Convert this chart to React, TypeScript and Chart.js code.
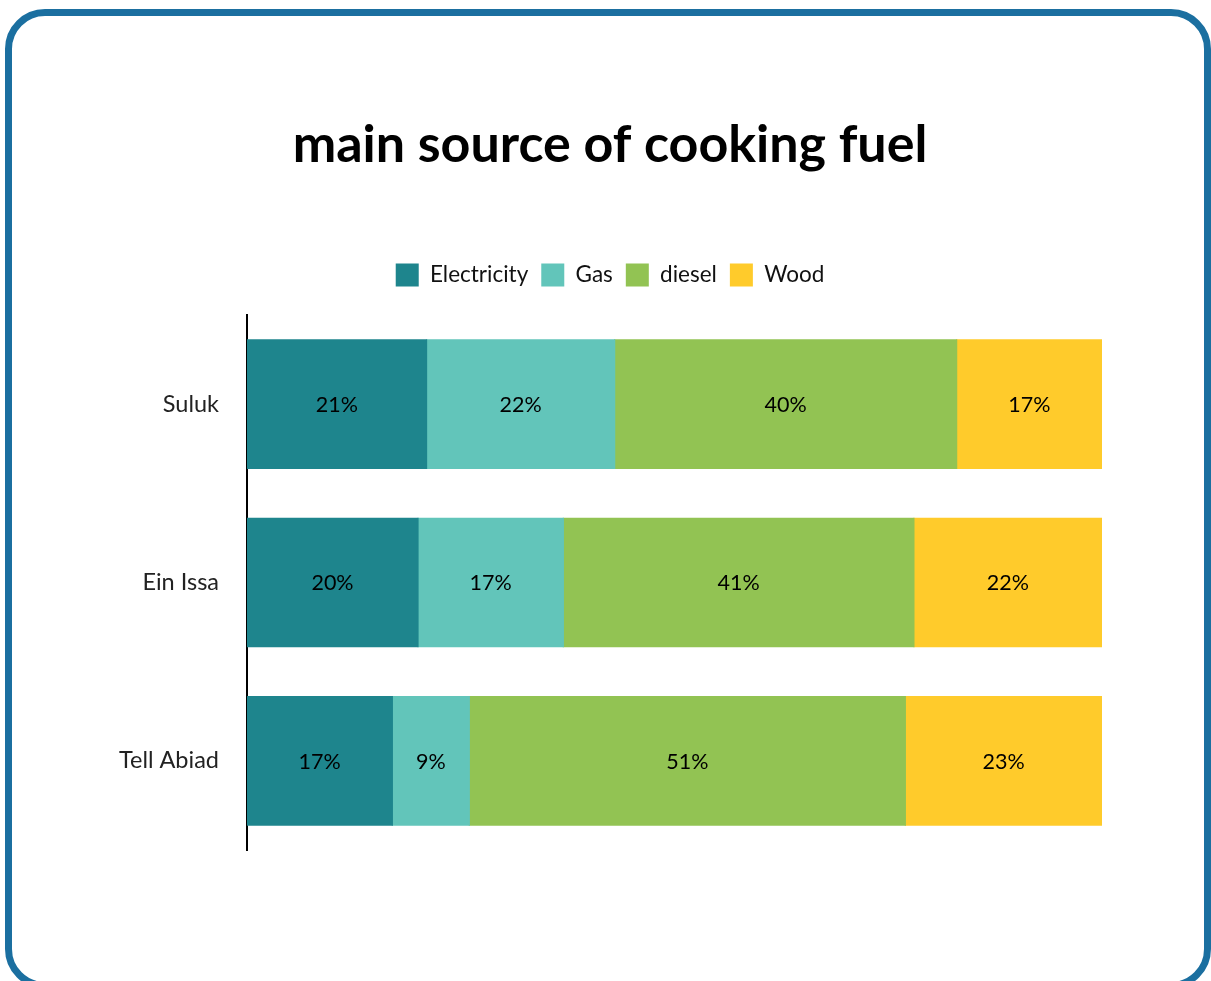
import React, { useEffect, useRef } from "react";
import { Chart, registerables } from "chart.js";

Chart.register(...registerables);

const categories = ["Suluk", "Ein Issa", "Tell Abiad"];
const seriesNames = ["Electricity", "Gas", "diesel", "Wood"];
const electricity = [21, 20, 17];
const gas = [22, 17, 9];
const diesel = [40, 41, 51];
const wood = [17, 22, 23];
const colors = ["#1E858D", "#62C5BA", "#92C353", "#FFCB2B"];

const FONT = "Lato, 'Noto Sans', sans-serif";

const valueLabels = {
  id: "valueLabels",
  afterDatasetsDraw(chart: any) {
    const ctx = chart.ctx;
    ctx.save();
    ctx.font = `21.5px ${FONT}`;
    ctx.fillStyle = "#000";
    ctx.textAlign = "center";
    ctx.textBaseline = "middle";
    chart.data.datasets.forEach((ds: any, i: number) => {
      const meta = chart.getDatasetMeta(i);
      meta.data.forEach((bar: any, j: number) => {
        const { x, base, y } = bar.getProps(["x", "base", "y"], true);
        ctx.fillText(`${ds.data[j]}%`, (x + base) / 2, y + 1);
      });
    });
    ctx.restore();
  },
};

const CHART_TOP = 315;

const legendSpacing = {
  id: "legendSpacing",
  beforeInit(chart: any) {
    const legend = chart.legend;
    if (!legend) return;
    const orig = legend.fit;
    legend.fit = function () {
      orig.call(this);
      const t = chart.options.plugins.title;
      const lh = t.font.size * 1.2;
      const titleBottom = t.padding.top + lh + t.padding.bottom;
      this.height = Math.max(this.height, CHART_TOP - titleBottom);
    };
  },
};

export default function App() {
  const ref = useRef<HTMLCanvasElement>(null);
  useEffect(() => {
    if (!ref.current) return;
    const data = [electricity, gas, diesel, wood];
    const chart = new Chart(ref.current, {
      type: "bar",
      data: {
        labels: categories,
        datasets: seriesNames.map((n, i) => ({
          label: n,
          data: data[i],
          backgroundColor: colors[i],
          borderWidth: 0,
          inflateAmount: 0.6,
          barPercentage: 0.72,
          categoryPercentage: 1,
        })),
      },
      options: {
        indexAxis: "y",
        animation: false,
        responsive: false,
        maintainAspectRatio: false,
        layout: { padding: { left: 118, right: 109, bottom: 131, top: 0 } },
        scales: {
          x: {
            stacked: true,
            display: false,
            min: 0,
            max: 100,
          },
          y: {
            stacked: true,
            grid: { display: false, drawTicks: false },
            border: { display: true, color: "#000", width: 2 },
            ticks: {
              color: "#222",
              font: { family: FONT, size: 23.5 },
              padding: 28,
            },
            afterFit: (scale: any) => {
              scale.width = 129;
            },
          },
        },
        plugins: {
          title: {
            display: true,
            text: "main source of cooking fuel",
            color: "#000",
            font: { family: FONT, size: 52, weight: "bold" },
            padding: { top: 114, bottom: 74 },
          },
          legend: {
            display: true,
            position: "top",
            labels: {
              boxWidth: 23,
              boxHeight: 23,
              padding: 13,
              color: "#111",
              font: { family: FONT, size: 22.5 },
            },
          },
          tooltip: { enabled: false },
        },
      },
      plugins: [legendSpacing, valueLabels],
    });
    return () => chart.destroy();
  }, []);

  return (
    <div style={{ position: "fixed", left: 0, top: 0, width: 1211, height: 981, overflow: "hidden", background: "#fff" }}>
      <div
        style={{
          position: "absolute",
          left: 5,
          top: 9,
          width: 1206,
          height: 980,
          boxSizing: "border-box",
          border: "7px solid #1B6FA0",
          borderRadius: 40,
          background: "#fff",
        }}
      />
      <canvas ref={ref} width={1211} height={981} style={{ position: "absolute", left: 0, top: 0 }} />
    </div>
  );
}
